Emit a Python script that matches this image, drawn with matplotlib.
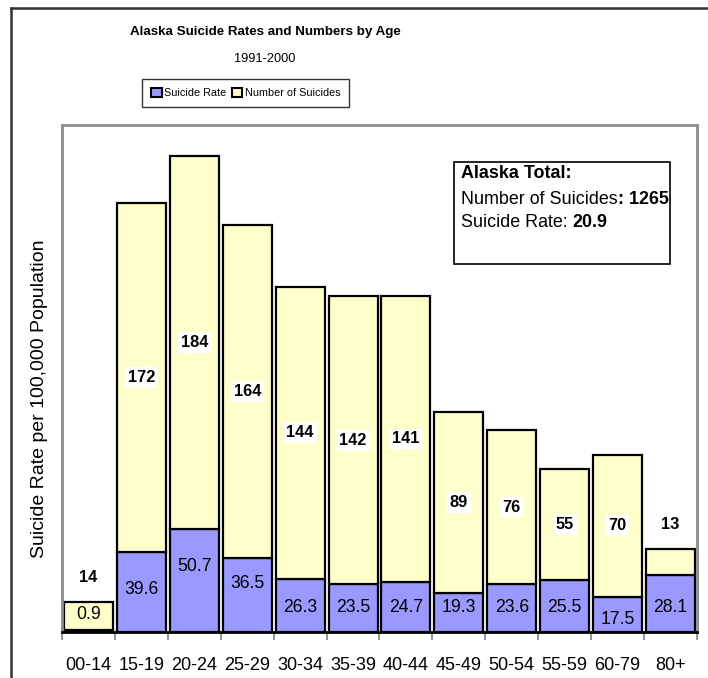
import numpy as np
import matplotlib
matplotlib.use('Agg')
import matplotlib.pyplot as plt
from matplotlib.patches import Patch, Rectangle
from matplotlib.lines import Line2D
from matplotlib.text import Annotation

plt.rcParams['font.family'] = ['Liberation Sans', 'DejaVu Sans']

# data
ages = ['00-14', '15-19', '20-24', '25-29', '30-34', '35-39', '40-44',
        '45-49', '50-54', '55-59', '60-79', '80+']
rate = [0.9, 39.6, 50.7, 36.5, 26.3, 23.5, 24.7, 19.3, 23.6, 25.5, 17.5, 28.1]
count = [14, 172, 184, 164, 144, 142, 141, 89, 76, 55, 70, 13]
total_count = 1265
total_rate = 20.9

# where the rate labels sit (data units)
rate_lab_y = [8.4, 21.2, 32.5, 24.1, 12.3, 12.3, 12.3, 12.3, 12.3, 12.3, 6.0, 12.3]

blue = '#9999FF'
yellow = '#FFFFCC'
W, H = 708, 678

fig = plt.figure(figsize=(W/100., H/100.), dpi=100)
ax = fig.add_axes([62./W, 1-632./H, 635./W, 507./H])

x = np.arange(len(ages))
ax.bar(x, rate, width=0.925, color=blue, edgecolor='black', linewidth=1.6, zorder=2)
ax.bar(x, count, bottom=rate, width=0.925, color=yellow, edgecolor='black',
       linewidth=1.6, zorder=2)

for i in range(len(ages)):
    top = rate[i] + count[i]
    if count[i] < 20:
        ax.text(x[i], top + 12, str(count[i]), ha='center', va='center',
                fontsize=11.8, fontweight='bold', zorder=3)
    else:
        ax.text(x[i], rate[i] + count[i]/2., str(count[i]), ha='center', va='center',
                fontsize=11.8, fontweight='bold', zorder=3,
                bbox=dict(facecolor='white', edgecolor='none', pad=2))
    ax.text(x[i], rate_lab_y[i], '%.1f' % rate[i], ha='center', va='center',
            fontsize=12.7, zorder=3)

ax.set_xlim(-0.5, len(ages) - 0.5)
ax.set_ylim(0, 250)
ax.set_yticks([])
ax.set_xticks(np.arange(len(ages) + 1) - 0.5)
ax.set_xticklabels([])
ax.set_xticks(x, minor=True)
ax.set_xticklabels(ages, minor=True, fontsize=13)
ax.tick_params(axis='x', which='major', length=6, width=1.2, color='#808080')
ax.tick_params(axis='x', which='minor', length=0, pad=18)
for s in ax.spines.values():
    s.set_color('#8c8c8c')
    s.set_linewidth(2)
ax.spines['bottom'].set_color('black')

fig.text(40./W, 1-399./H, 'Suicide Rate per 100,000 Population', rotation=90,
         ha='center', va='center', fontsize=14)

fig.text(265./W, 1-32./H, 'Alaska Suicide Rates and Numbers by Age',
         ha='center', va='center', fontsize=9.6, fontweight='bold')
fig.text(265./W, 1-59./H, '1991-2000', ha='center', va='center', fontsize=9.2)

handles = [Patch(facecolor=blue, edgecolor='black', linewidth=1.5, label='Suicide Rate'),
           Patch(facecolor=yellow, edgecolor='black', linewidth=1.5, label='Number of Suicides')]
leg = fig.legend(handles=handles, loc='center', bbox_to_anchor=(245.5/W, 1-93./H),
                 ncol=2, fontsize=7.8, frameon=True, fancybox=False, edgecolor='black',
                 handlelength=1.0, handleheight=1.0, handletextpad=0.2,
                 columnspacing=0.5, borderpad=0.8, borderaxespad=0)
leg.get_frame().set_linewidth(1)

# Alaska total box
fig.add_artist(Rectangle((454./W, 1-264./H), 216./W, 102./H, transform=fig.transFigure,
                         facecolor='white', edgecolor='black', linewidth=1.2))
fig.text(461./W, 1-174./H, 'Alaska Total:', ha='left', va='center',
         fontsize=12.9, fontweight='bold')
t1 = fig.text(461./W, 1-199./H, 'Number of Suicides', ha='left', va='center', fontsize=12.9)
t2 = fig.text(461./W, 1-222./H, 'Suicide Rate: ', ha='left', va='center', fontsize=12.9)
for t, s in [(t1, ': %d' % total_count), (t2, '%.1f' % total_rate)]:
    a = Annotation(s, xy=(1, 0), xycoords=t, ha='left', va='bottom',
                   fontsize=12.9, fontweight='bold', annotation_clip=False)
    a.set_zorder(5)
    fig.add_artist(a)

# outer chart border (cut off at the right and bottom)
fig.add_artist(Line2D([11./W, 11./W], [0, 1-7.5/H], transform=fig.transFigure,
                      color='#333333', linewidth=1.8))
fig.add_artist(Line2D([11./W, 1], [1-7.5/H, 1-7.5/H], transform=fig.transFigure,
                      color='#333333', linewidth=1.8))

fig.savefig('out.png', dpi=100)
